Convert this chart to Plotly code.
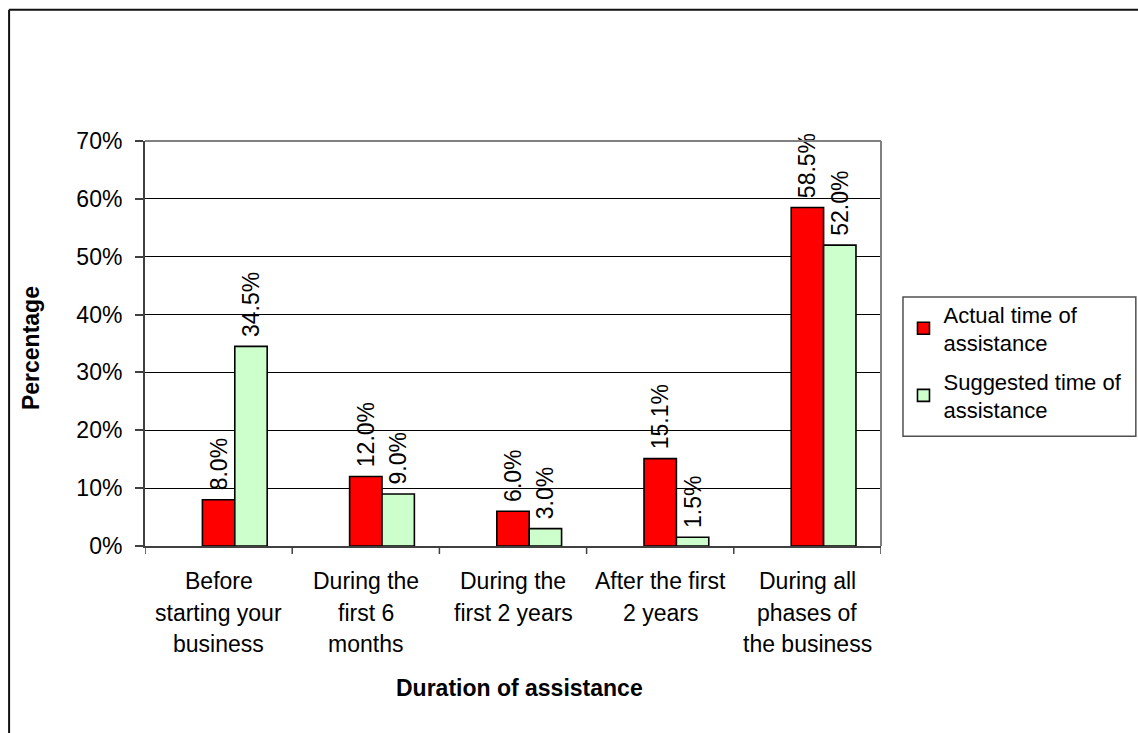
import plotly.graph_objects as go

# Survey results: when assistance was received vs. when it was suggested
categories = [
    "Before<br>starting your<br>business",
    "During the<br>first 6<br>months",
    "During the<br>first 2 years",
    "After the first<br>2 years",
    "During all<br>phases of<br>the business",
]
actual = [0.080, 0.120, 0.060, 0.151, 0.585]
suggested = [0.345, 0.090, 0.030, 0.015, 0.520]
series_names = ["Actual time of<br>assistance", "Suggested time of<br>assistance"]
y_ticks = [0, 0.1, 0.2, 0.3, 0.4, 0.5, 0.6, 0.7]

FONT = "Liberation Sans, Arial, sans-serif"
FS = 23
W, H = 1138, 733
L, R, T, B = 145, 256.5, 140.5, 186.5
plot_w = W - L - R
plot_h = H - T - B
BAR_W = 0.22  # bar width in category units


def px_x(px):
    return (px - L) / plot_w


def px_y(py):
    return (H - B - py) / plot_h


fig = go.Figure()
# red bar centred on the category, green bar directly to its right
for name, vals, color, offset, group in [
    (series_names[0], actual, "#FF0000", -BAR_W / 2, "actual"),
    (series_names[1], suggested, "#CCFFCC", BAR_W / 2, "suggested"),
]:
    fig.add_trace(go.Bar(
        x=list(range(len(categories))),
        y=vals,
        name=name,
        legendgroup=group,
        width=BAR_W,
        offset=offset,
        marker=dict(color=color, line=dict(color="black", width=1.6)),
        text=["\u00a0" + f"{v * 100:.1f}%" for v in vals],
        textposition="outside",
        textangle=-90,
        constraintext="none",
        cliponaxis=False,
        textfont=dict(family=FONT, size=FS, color="black"),
    ))

# Category labels, one annotation per line for even line spacing
line_px = [582, 613.5, 645]
annotations = []
for i, cat in enumerate(categories):
    for j, line in enumerate(cat.split("<br>")):
        annotations.append(dict(
            x=i, xref="x", y=px_y(line_px[j]), yref="paper",
            text=line, showarrow=False, xanchor="center", yanchor="middle",
            font=dict(family=FONT, size=FS, color="black"),
        ))

annotations.append(dict(
    x=px_x(520), xref="paper", y=px_y(689), yref="paper",
    text="<b>Duration of assistance</b>", showarrow=False,
    xanchor="center", yanchor="middle",
    font=dict(family=FONT, size=FS, color="black"),
))
annotations.append(dict(
    x=px_x(31), xref="paper", y=px_y(348), yref="paper",
    text="<b>Percentage</b>", showarrow=False, textangle=-90,
    xanchor="center", yanchor="middle",
    font=dict(family=FONT, size=FS, color="black"),
))

shapes = [
    # plot area top and right edges
    dict(type="line", xref="paper", yref="paper", x0=0, x1=1, y0=1, y1=1,
         line=dict(color="#808080", width=2), layer="above"),
    dict(type="line", xref="paper", yref="paper", x0=1, x1=1, y0=0, y1=1,
         line=dict(color="#808080", width=2), layer="above"),
    # chart frame (left and top)
    dict(type="line", xref="paper", yref="paper", x0=px_x(9), x1=px_x(W + 20),
         y0=px_y(9), y1=px_y(9), line=dict(color="#111111", width=2)),
    dict(type="line", xref="paper", yref="paper", x0=px_x(9), x1=px_x(9),
         y0=px_y(9), y1=px_y(H + 20), line=dict(color="#111111", width=2)),
    # legend frame
    dict(type="rect", xref="paper", yref="paper",
         x0=px_x(903.5), x1=px_x(1136.5), y0=px_y(436.5), y1=px_y(297),
         line=dict(color="#505050", width=1.5), fillcolor="rgba(0,0,0,0)"),
]
# boundary tick marks below the category axis
for k in range(len(categories) + 1):
    shapes.append(dict(type="line", xref="x", yref="paper", x0=k - 0.5, x1=k - 0.5,
                       y0=0, y1=px_y(H - B + 8), line=dict(color="#404040", width=1.5)))

fig.update_layout(
    width=W, height=H,
    margin=dict(l=L, r=R, t=T, b=B, pad=0, autoexpand=False),
    paper_bgcolor="white", plot_bgcolor="white",
    barmode="overlay",
    font=dict(family=FONT, size=FS, color="black"),
    showlegend=True,
    legend=dict(
        x=px_x(904), y=px_y(293), xanchor="left", yanchor="top",
        borderwidth=0, bgcolor="rgba(0,0,0,0)",
        font=dict(family=FONT, size=FS - 1, color="black"),
        tracegroupgap=7,
    ),
    annotations=annotations,
    shapes=shapes,
)
fig.update_xaxes(
    range=[-0.5, len(categories) - 0.5],
    tickvals=list(range(len(categories))),
    showticklabels=False,
    ticks="", showgrid=False, zeroline=False,
    showline=True, linecolor="#404040", linewidth=2,
)
fig.update_yaxes(
    range=[0, 0.7],
    tickvals=y_ticks,
    ticktext=[f"{int(round(v * 100))}%" for v in y_ticks],
    ticks="outside", ticklen=8, tickcolor="#404040", tickwidth=1.5,
    ticklabelstandoff=8,
    tickfont=dict(family=FONT, size=FS, color="black"),
    showgrid=True, gridcolor="black", gridwidth=1,
    zeroline=False,
    showline=True, linecolor="#404040", linewidth=2,
)

fig.write_html("out.html")
